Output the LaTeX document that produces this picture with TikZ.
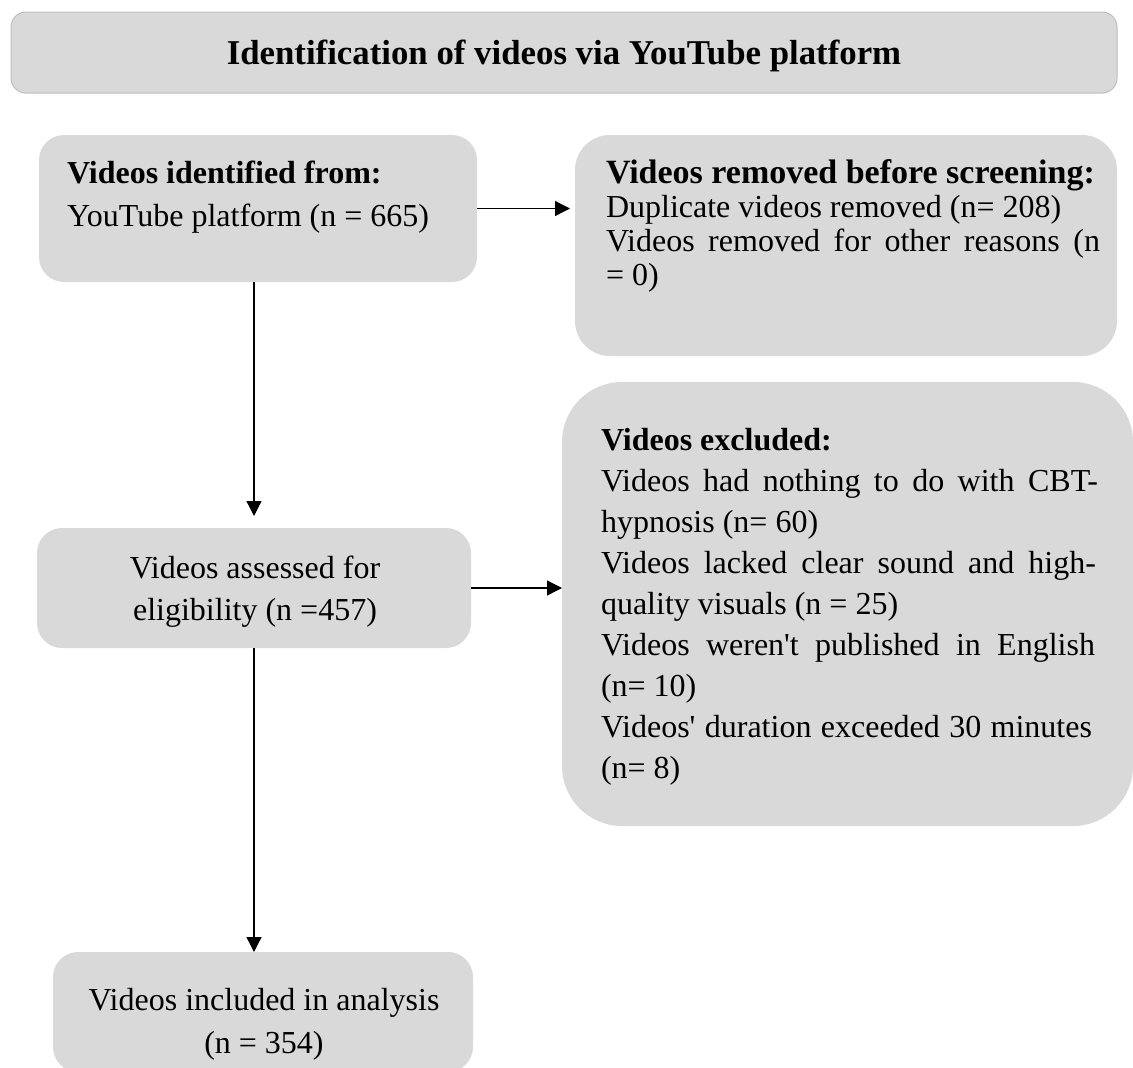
\documentclass[tikz,border=0pt]{standalone}
\usepackage{fontspec}
\setmainfont{Liberation Serif}
\usetikzlibrary{arrows.meta}
\definecolor{boxgray}{HTML}{D9D9D9}
\definecolor{edgegray}{HTML}{BFBFBF}
\newcommand\leftlines[2]{\vtop{\baselineskip=#1\lineskiplimit=-100pt\halign{##\hfil\cr #2\cr}}}
\newcommand\centerlines[2]{\vtop{\baselineskip=#1\lineskiplimit=-100pt\halign{\hfil##\hfil\cr #2\cr}}}
\newcommand\jl[2]{\hbox to #1{#2}}
\newcommand\hd[1]{{\bfseries #1}}
\newcommand\ap{\textquotesingle}
\hbadness=10000
\tikzset{
  x=1pt, y=-1pt,
  boxbase/.style={fill=boxgray, draw=none, inner sep=0pt, outer sep=0pt, anchor=north west},
  txt/.style={inner sep=0pt, outer sep=0pt, font=\fontsize{32}{42}\selectfont},
  arr/.style={line width=1.3pt, -{Triangle[length=15pt,width=15pt]}}
}
\begin{document}
\begin{tikzpicture}
\useasboundingbox (0,0) rectangle (1133,1068);
\begin{scope}
\clip (0,0) rectangle (1133,1068);
% title
\node[boxbase, draw=edgegray, line width=1pt, rounded corners=15pt, minimum width=1106pt, minimum height=81pt] (title) at (11,12) {};
\node[txt, font=\fontsize{34.8}{40}\selectfont\bfseries, anchor=base] (titletext) at (564,64) {Identification of videos via YouTube platform};
% boxes
\node[boxbase, rounded corners=25pt, minimum width=438pt, minimum height=147pt] (b1) at (39,135) {};
\node[boxbase, rounded corners=35pt, minimum width=542pt, minimum height=221pt] (b2) at (575,135) {};
\node[boxbase, rounded corners=60pt, minimum width=571pt, minimum height=444pt] (b3) at (562,382) {};
\node[boxbase, rounded corners=25pt, minimum width=434pt, minimum height=120pt] (b4) at (37,528) {};
\node[boxbase, rounded corners=25pt, minimum width=420pt, minimum height=120pt] (b5) at (53,952) {};
% texts
\node[txt, anchor=base west] (t1) at (67,183) {\leftlines{43pt}{\hd{Videos identified from:}\cr YouTube platform (n = 665)}};
\node[txt, anchor=base west] (t2) at (606,183) {\leftlines{34pt}{{\fontsize{34}{40}\selectfont\bfseries Videos removed before screening:}\cr Duplicate videos removed (n= 208)\cr \jl{494pt}{Videos removed for other reasons (n}\cr = 0)}};
\node[txt, anchor=base west] (t3) at (601,450) {\leftlines{41pt}{\hd{Videos excluded:}\cr \jl{497pt}{Videos had nothing to do with CBT-}\cr hypnosis (n= 60)\cr \jl{495pt}{Videos lacked clear sound and high-}\cr quality visuals (n = 25)\cr \jl{494pt}{Videos weren\ap t published in English}\cr (n= 10)\cr \jl{491pt}{Videos\ap{} duration exceeded 30 minutes}\cr (n= 8)}};
\node[txt, anchor=base] (t4) at (255,578) {\centerlines{42pt}{Videos assessed for\cr eligibility (n =457)}};
\node[txt, anchor=base] (t5) at (264,1010) {\centerlines{43pt}{Videos included in analysis\cr (n = 354)}};
\end{scope}
% connectors
\draw[arr, shorten >=5pt] (b1.east) -- (b1.east -| b2.west);
\draw[arr, shorten >=12pt] (b4.north |- b1.south) -- (b4.north);
\draw[arr] (b4.east) -- (b4.east -| b3.west);
\draw[arr] (b4.south) -- (b4.south |- b5.north);
\end{tikzpicture}
\end{document}
